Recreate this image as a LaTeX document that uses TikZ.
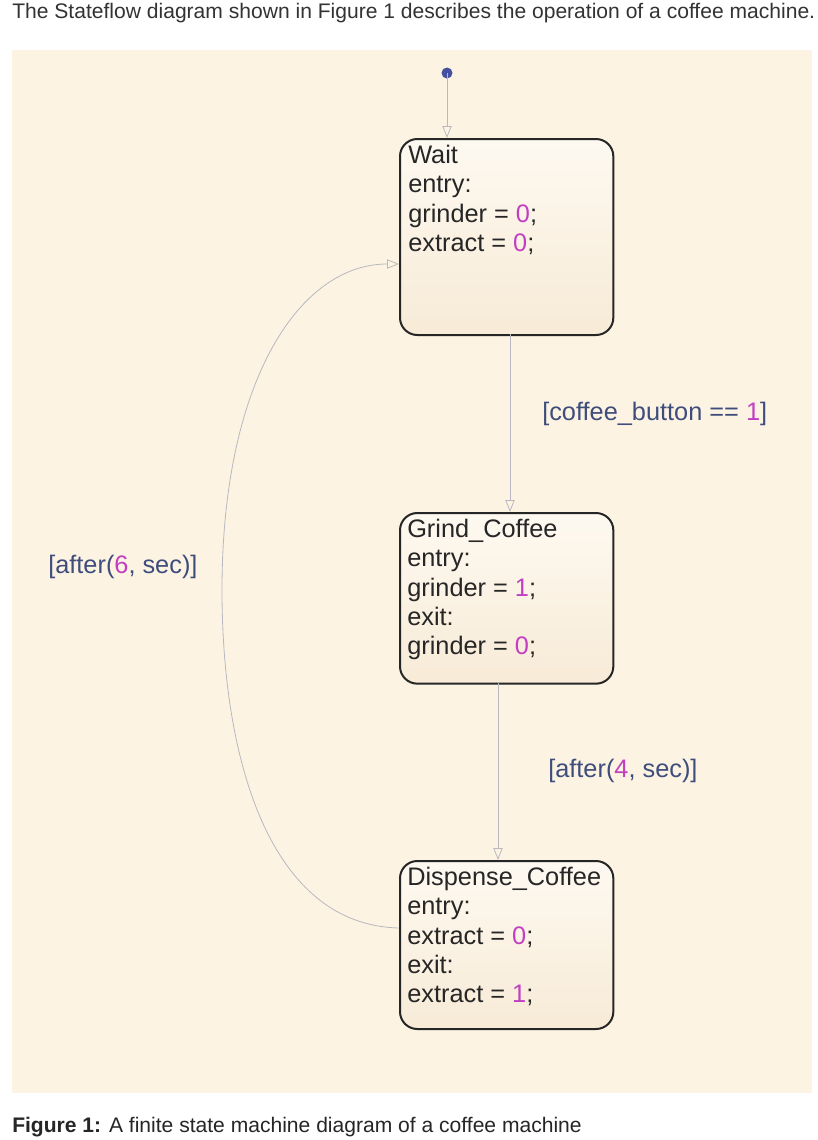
\documentclass[tikz,border=0pt]{standalone}
\usepackage{fontspec}
\setmainfont{Liberation Sans}
\usetikzlibrary{arrows.meta}
\definecolor{panel}{HTML}{FCF3E2}
\definecolor{lbl}{HTML}{3E4D7C}
\definecolor{num}{HTML}{C23FC2}
\definecolor{wire}{HTML}{B8B8C0}
\newcommand{\nm}[1]{\textcolor{num}{#1}}
\tikzset{
 sbox/.style={draw=black!85, line width=1.5pt, rounded corners=13pt, top color=white!50!panel, bottom color=panel!92!brown!95!white, minimum width=160pt, anchor=north west, inner sep=0pt},
 stext/.style={anchor=north west, align=left, font=\fontsize{19}{22}\selectfont, inner sep=0pt, text=black!85},
 tr/.style={draw=wire, line width=0.6pt, -{Triangle[open,length=9pt,width=7pt]}},
 glabel/.style={font=\fontsize{19}{22}\selectfont, text=lbl, inner sep=0pt}
}
\begin{document}
\begin{tikzpicture}[x=0.75pt,y=-0.75pt]
\useasboundingbox (0,0) rectangle (818,1140);
\fill[white] (0,0) rectangle (818,1140);
\node[anchor=west, font=\fontsize{15.8}{18}\selectfont, text=black!80, inner sep=0pt] (title) at (12,13) {The Stateflow diagram shown in Figure 1 describes the operation of a coffee machine.};
\fill[panel] (12,50) rectangle (812,1093);
\node[anchor=west, font=\fontsize{15.8}{18}\selectfont, text=black!85, inner sep=0pt] (cap) at (12,1127) {\textbf{Figure 1:} A finite state machine diagram of a coffee machine};

\node[sbox, minimum height=147pt] (wait) at (399,138) {};
\node[sbox, minimum height=128pt] (grind) at (399,512) {};
\node[sbox, minimum height=126pt] (disp) at (399,860) {};

\node[stext] (wt) at (408,145) {Wait\\entry:\\grinder = \nm{0};\\extract = \nm{0};};
\node[stext] (gt) at (407,519) {Grind\_Coffee\\entry:\\grinder = \nm{1};\\exit:\\grinder = \nm{0};};
\node[stext] (dt) at (407,867) {Dispense\_Coffee\\entry:\\extract = \nm{0};\\exit:\\extract = \nm{1};};

\fill[color={rgb,255:red,70;green,80;blue,160}] (447,73) circle (5.5) coordinate (init);
\draw[tr] (init) -- (447,138);
\draw[tr] (510,334) -- (510,512);
\draw[tr] (498,683) -- (498,860);
\draw[tr] (399,928) .. controls (270,925) and (222,760) .. (222,590) .. controls (222,380) and (300,264) .. (399,264);

\node[glabel, anchor=west] (l1) at (542,414) {[coffee\_button == \nm{1}]};
\node[glabel, anchor=west] (l2) at (548,771) {[after(\nm{4}, sec)]};
\node[glabel, anchor=west] (l3) at (48,567) {[after(\nm{6}, sec)]};
\end{tikzpicture}
\end{document}
